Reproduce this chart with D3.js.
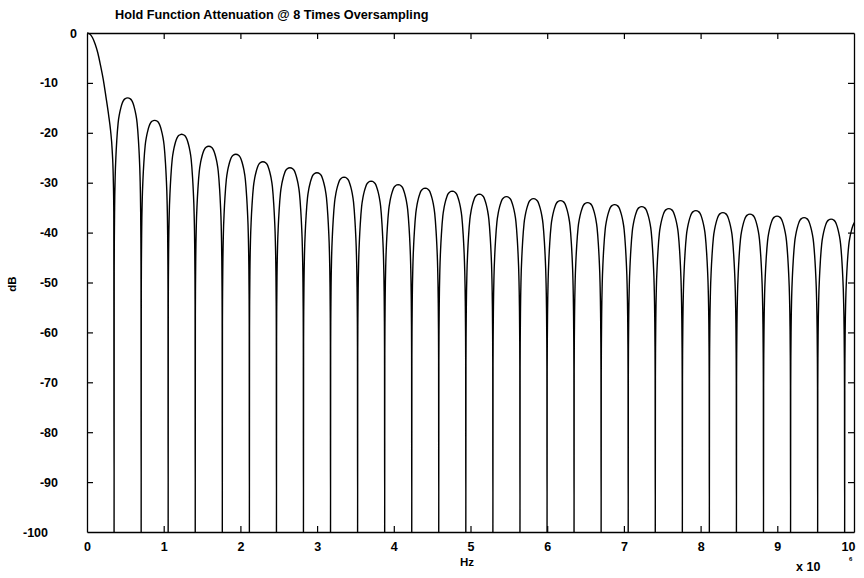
<!DOCTYPE html>
<html>
<head>
<meta charset="utf-8">
<script src="https://cdn.jsdelivr.net/npm/d3@7"></script>
<style>
  html, body { margin: 0; padding: 0; background: #fff; }
  text { font-family: "Liberation Sans", Arial, sans-serif; fill: #000; }
</style>
</head>
<body>
<svg id="chart" width="864" height="578"></svg>
<script>
// ---- data (frequency in units of 10^6 Hz, level in dB) ----
const title = "Hold Function Attenuation @ 8 Times Oversampling";
const xTicks = [0, 1, 2, 3, 4, 5, 6, 7, 8, 9, 10];
const yTicks = [0, -10, -20, -30, -40, -50, -60, -70, -80, -90, -100];

// positions of the nulls (lobe boundaries)
const nullHz = [0.353, 0.706, 1.058, 1.411, 1.764, 2.117, 2.470, 2.822, 3.175, 3.528,
                3.881, 4.234, 4.586, 4.939, 5.292, 5.645, 5.998, 6.350, 6.703, 7.056,
                7.409, 7.762, 8.114, 8.467, 8.820, 9.173, 9.526, 9.878, 10.231];
// side-lobe peak levels (lobe between nullHz[k-1] and nullHz[k])
const peakDb = [-13.0, -17.5, -20.3, -22.7, -24.3, -25.8, -27.0, -28.0, -28.9, -29.7,
                -30.4, -31.1, -31.7, -32.3, -32.8, -33.2, -33.6, -34.0, -34.4, -34.8,
                -35.2, -35.6, -36.0, -36.3, -36.7, -37.0, -37.3, -37.6];
// main lobe shape (fraction of first null, level)
const mainLobeU  = [0, 0.1, 0.2, 0.3, 0.4, 0.5, 0.6, 0.7, 0.8, 0.87, 0.93, 0.97, 0.99, 1.0];
const mainLobeDb = [0, -0.2, -0.9, -2.2, -4.0, -6.5, -9.3, -12.8, -16.5, -19.5, -23.5, -29, -36, -100];
// side lobe shape: fraction across half a lobe, drop from peak (dB)
const lobeU        = [0, 0.005, 0.01, 0.02, 0.04, 0.07, 0.1, 0.15, 0.2, 0.25, 0.3, 0.35, 0.4, 0.45, 0.5];
const lobeOffsetDb = [-200, -34, -28, -22, -16, -11.5, -8.5, -5.0, -3.2, -2.0, -1.1, -0.5, -0.2, -0.05, 0];

// ---- layout ----
const W = 864, H = 578;
const m = { left: 87, top: 33, right: 854, bottom: 532 };

const svg = d3.select("#chart");
svg.append("rect").attr("width", W).attr("height", H).attr("fill", "#fff");

const x = d3.scaleLinear().domain([0, 10]).range([m.left, m.right]);
const y = d3.scaleLinear().domain([-100, 0]).range([m.bottom, m.top]);

// ---- build curve points ----
const pts = [];
mainLobeU.forEach((u, i) => pts.push([u * nullHz[0], mainLobeDb[i]]));
peakDb.forEach((p, k) => {
  const a = nullHz[k], b = nullHz[k + 1], w = b - a;
  lobeU.forEach((u, i) => { if (i > 0) pts.push([a + u * w, Math.max(-100, p + lobeOffsetDb[i])]); });
  for (let i = lobeU.length - 2; i >= 0; i--) {
    pts.push([b - lobeU[i] * w, Math.max(-100, p + lobeOffsetDb[i])]);
  }
});

svg.append("clipPath").attr("id", "plotclip")
  .append("rect").attr("x", m.left).attr("y", m.top - 1)
  .attr("width", m.right - m.left).attr("height", m.bottom - m.top + 1);

const line = d3.line().x(d => x(d[0])).y(d => y(d[1])).curve(d3.curveMonotoneX);
svg.append("path").datum(pts)
  .attr("clip-path", "url(#plotclip)")
  .attr("d", line).attr("fill", "none").attr("stroke", "#000").attr("stroke-width", 1.4);

// ---- axes (inside ticks on all four sides) ----
const tickLen = 6;
const inner = xTicks.slice(1, -1);
const innerY = yTicks.slice(1, -1);
const fmt = d => String(d);

const bottomAxis = d3.axisBottom(x).tickValues(xTicks).tickFormat(fmt).tickSize(-tickLen).tickPadding(10).tickSizeOuter(0);
const gB = svg.append("g").attr("transform", `translate(0,${m.bottom})`).call(bottomAxis);
const topAxis = d3.axisTop(x).tickValues(inner).tickSize(-tickLen).tickFormat("").tickSizeOuter(0);
const gT = svg.append("g").attr("transform", `translate(0,${m.top})`).call(topAxis);
const leftAxis = d3.axisLeft(y).tickValues(yTicks).tickFormat(fmt).tickSize(-tickLen).tickPadding(29).tickSizeOuter(0);
const gL = svg.append("g").attr("transform", `translate(${m.left},0)`).call(leftAxis);
const rightAxis = d3.axisRight(y).tickValues(innerY).tickSize(-tickLen).tickFormat("").tickSizeOuter(0);
const gR = svg.append("g").attr("transform", `translate(${m.right},0)`).call(rightAxis);

[gB, gT, gL, gR].forEach(g => {
  g.select(".domain").attr("stroke", "#000").attr("stroke-width", 1.3);
  g.selectAll(".tick line").attr("stroke", "#000").attr("stroke-width", 1.2);
  g.selectAll("text").attr("font-size", 12.5).attr("font-weight", "bold")
    .attr("font-family", "'Liberation Sans', Arial, sans-serif");
});
gB.selectAll(".tick").filter(d => d === 0 || d === 10).select("line").remove();
gL.selectAll(".tick").filter(d => d === 0 || d === -100).select("line").remove();
gB.selectAll(".tick").filter(d => d === 10).select("text").attr("dx", -6);
// label placement as in the reference
gL.selectAll(".tick text").attr("x", d => d === 0 ? -10 : (d === -100 ? -39 : -29));

// ---- titles ----
svg.append("text").attr("x", 115).attr("y", 19)
  .attr("font-size", 12.7).attr("font-weight", "bold").text(title);
svg.append("text").attr("x", 467).attr("y", 566).attr("text-anchor", "middle")
  .attr("font-size", 11.5).attr("font-weight", "bold").text("Hz");
svg.append("text").attr("transform", "translate(16,284) rotate(-90)").attr("text-anchor", "middle")
  .attr("font-size", 11.5).attr("font-weight", "bold").text("dB");
svg.append("text").attr("x", 796).attr("y", 571)
  .attr("font-size", 12.5).attr("font-weight", "bold").text("x 10");
svg.append("text").attr("x", 849).attr("y", 561)
  .attr("font-size", 6).attr("font-weight", "bold").text("6");
</script>
</body>
</html>
